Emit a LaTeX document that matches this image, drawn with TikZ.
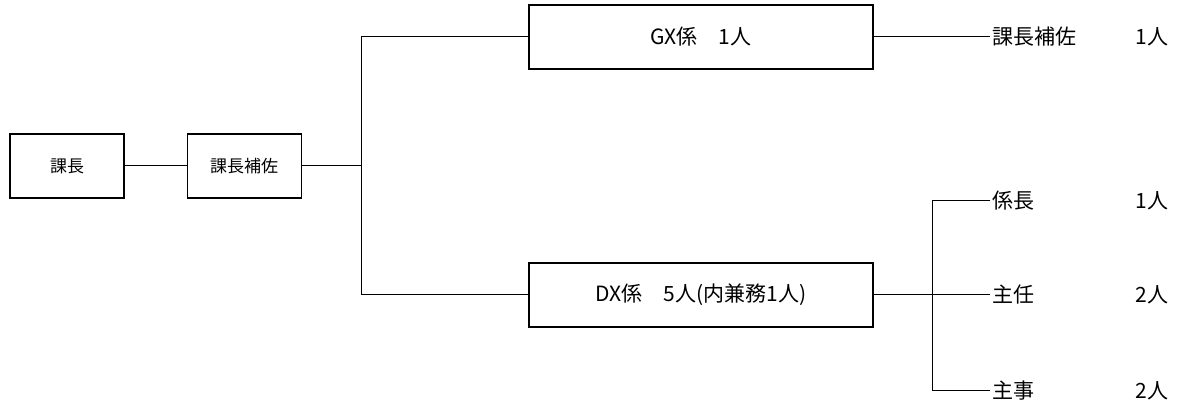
\documentclass[tikz,border=0pt]{standalone}
\usepackage{fontspec}
\setmainfont{Noto Sans CJK JP}
\usepackage{tikz}
\usetikzlibrary{calc, positioning}
\tikzstyle{post} = [rectangle, line width=0.6pt, minimum width=57pt, minimum height=32pt, text centered, draw=black, font=\fontsize{8.5pt}{10pt}\selectfont]
\tikzstyle{section} = [rectangle, line width=0.6pt, minimum width=172pt, minimum height=32pt, text centered, draw=black, font=\fontsize{10.5pt}{12pt}\selectfont]
\tikzstyle{staff} = [anchor=west, inner sep=1pt, font=\fontsize{10.5pt}{12pt}\selectfont]
\tikzstyle{line} = [line width=0.5pt]

\begin{document}
\begin{tikzpicture}[node distance = 31pt, auto]
		\useasboundingbox (0,0) rectangle (588.5pt,-200pt);
		
		\node (Chief) [post] at (33.5pt,-83pt) {課長};
		\node (Deputy) [post, right = of Chief] {課長補佐};
		\coordinate (Split) at ($(Deputy.east)+(30pt,0)$);
		
		\node (GX) [section] at (350.5pt,-18.5pt) {GX係　1人};
		\node (DX) [section] at (350.5pt,-147.5pt) {DX係　5人(内兼務1人)};
		\coordinate (DXSplit) at (466pt,-147.5pt);
		
		\node (GXDeputy) [staff] at (495pt,-18.5pt) {課長補佐};
		\node (Leader) [staff] at (495pt,-100.5pt) {係長};
		\node (Senior) [staff] at (495pt,-147.5pt) {主任};
		\node (Clerk) [staff] at (495pt,-195.5pt) {主事};
		
		\node (GXDeputyNum) [staff] at (566.5pt,-18.5pt) {1人};
		\node (LeaderNum) [staff] at (566.5pt,-100.5pt) {1人};
		\node (SeniorNum) [staff] at (566.5pt,-147.5pt) {2人};
		\node (ClerkNum) [staff] at (566.5pt,-195.5pt) {2人};
		
		\draw [line] (Chief) -- (Deputy);
		\draw [line] (Deputy) -- (Split);
		\draw [line] (GX.west) -| (Split) |- (DX.west);
		\draw [line] (GX) -- (GXDeputy);
		\draw [line] (DX) -- (Senior);
		\draw [line] (Leader.west) -| (DXSplit) |- (Clerk.west);
		
\end{tikzpicture}
\end{document}
